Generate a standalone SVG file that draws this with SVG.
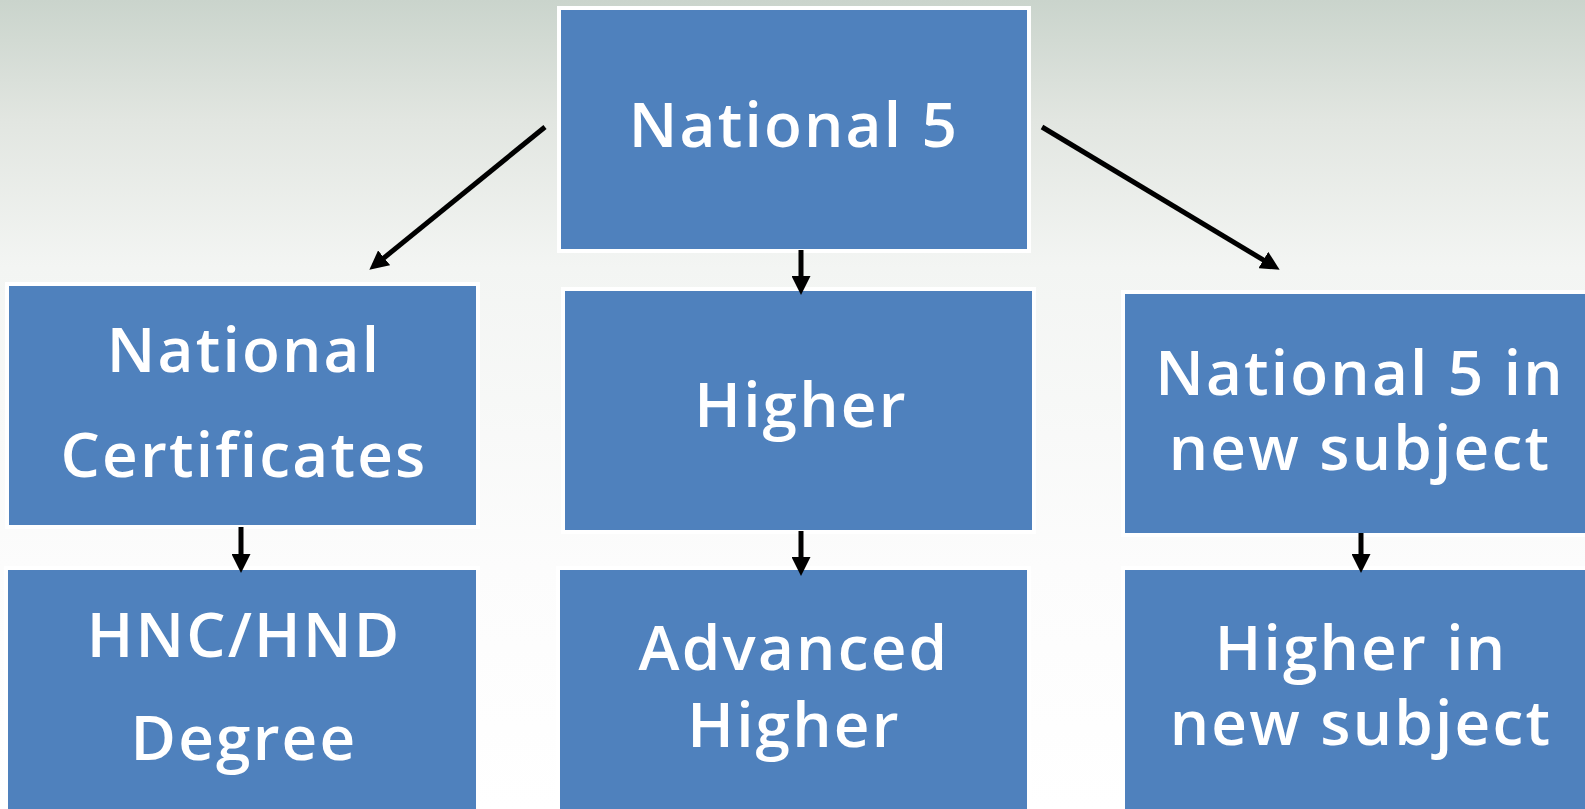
<svg xmlns="http://www.w3.org/2000/svg" width="1585" height="809" viewBox="0 0 1585 809">
  <defs>
    <linearGradient id="bg" x1="0" y1="0" x2="0" y2="1">
      <stop offset="0" stop-color="#cad4cc"/>
      <stop offset="0.15" stop-color="#e2e6e1"/>
      <stop offset="0.33" stop-color="#f3f5f3"/>
      <stop offset="0.7" stop-color="#fcfcfc"/>
      <stop offset="1" stop-color="#ffffff"/>
    </linearGradient>
    <marker id="arrow" markerUnits="userSpaceOnUse" markerWidth="19" markerHeight="19" refX="13" refY="9.5" orient="auto">
      <path d="M0,0 L19,9.5 L0,19 z" fill="#000"/>
    </marker>
    <style>
      .box { fill: #4f81bd; stroke: #ffffff; stroke-width: 4; }
      .lbl { font-family: "Open Sans", "Noto Sans", sans-serif; font-size: 62px; font-weight: 600; fill: #ffffff; text-anchor: middle; letter-spacing: 2.2px; }
      .conn { stroke: #000; stroke-width: 5; fill: none; marker-end: url(#arrow); }
    </style>
  </defs>
  <rect x="0" y="0" width="1585" height="809" fill="url(#bg)"/>

  <g id="national5">
    <rect class="box" x="559" y="8" width="470" height="243"/>
    <text class="lbl" x="794" y="147">National 5</text>
  </g>
  <g id="national-certificates">
    <rect class="box" x="7" y="284" width="471" height="243"/>
    <text class="lbl" x="244" y="372">National</text>
    <text class="lbl" x="244" y="477">Certificates</text>
  </g>
  <g id="higher">
    <rect class="box" x="563" y="289" width="471" height="243"/>
    <text class="lbl" x="801" y="427">Higher</text>
  </g>
  <g id="national5-new">
    <rect class="box" x="1123" y="292" width="480" height="243"/>
    <text class="lbl" x="1360" y="395">National 5 in</text>
    <text class="lbl" x="1360" y="470">new subject</text>
  </g>
  <g id="hnc-hnd">
    <rect class="box" x="6" y="568" width="472" height="260"/>
    <text class="lbl" x="244" y="657">HNC/HND</text>
    <text class="lbl" x="244" y="760">Degree</text>
  </g>
  <g id="advanced-higher">
    <rect class="box" x="558" y="568" width="471" height="260"/>
    <text class="lbl" x="794" y="670">Advanced</text>
    <text class="lbl" x="794" y="747">Higher</text>
  </g>
  <g id="higher-new">
    <rect class="box" x="1123" y="568" width="480" height="260"/>
    <text class="lbl" x="1361" y="670">Higher in</text>
    <text class="lbl" x="1361" y="745">new subject</text>
  </g>

  <g id="connectors">
    <line class="conn" x1="545" y1="127" x2="374" y2="266"/>
    <line class="conn" x1="1042" y1="127" x2="1274.5" y2="266.7"/>
    <line class="conn" x1="801" y1="250" x2="801" y2="289"/>
    <line class="conn" x1="241" y1="527" x2="241" y2="567"/>
    <line class="conn" x1="801" y1="531" x2="801" y2="570"/>
    <line class="conn" x1="1361" y1="533" x2="1361" y2="567"/>
  </g>
</svg>
